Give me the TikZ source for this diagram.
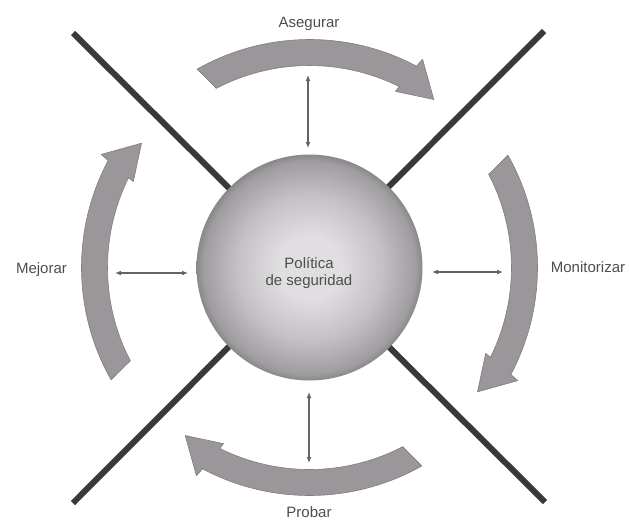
\documentclass[tikz,border=0pt]{standalone}
\usepackage{fontspec}
\setmainfont{Liberation Sans}
\usetikzlibrary{arrows.meta}
\definecolor{arcgray}{RGB}{154,150,154}
\definecolor{arcedge}{RGB}{128,124,128}
\definecolor{linedark}{RGB}{58,56,58}
\definecolor{txtgray}{RGB}{78,78,78}
\definecolor{linkgray}{RGB}{100,100,100}
\definecolor{sphA}{RGB}{224,222,224}
\definecolor{sphB}{RGB}{196,193,196}
\definecolor{sphC}{RGB}{160,157,160}
\definecolor{sphD}{RGB}{138,135,138}
\pgfdeclareradialshading{sphereshade}{\pgfpoint{0bp}{0bp}}{color(0bp)=(sphA); color(7bp)=(sphA); color(16bp)=(sphB); color(23.5bp)=(sphC); color(25bp)=(sphD); color(50bp)=(sphD)}
\begin{document}
\begin{tikzpicture}[x=1pt,y=1pt,
  lbl/.style={font=\fontsize{15}{17.5}\selectfont, text=txtgray, inner sep=0pt},
  diag/.style={line width=6pt, draw=linedark},
  link/.style={line width=1.2pt, draw=linkgray, {Latex[length=6pt,width=5pt]}-{Latex[length=6pt,width=5pt]}},
  cyc/.style={fill=arcgray, draw=arcedge, line width=0.6pt, line join=round}]
\useasboundingbox (0,0) rectangle (629,-520);
\coordinate (C) at (309.5,-267.5);
\coordinate (tl) at (73,-33);
\coordinate (br) at (545,-502);
\coordinate (tr) at (544,-31);
\coordinate (bl) at (73,-503);
\draw[diag] (tl) -- (br);
\draw[diag] (tr) -- (bl);
\node[circle, minimum size=226pt, inner sep=0pt, shade, shading=sphereshade] (sphere) at (C) {};
\node[lbl, align=center] (pol) at (309,-273) {Política\\de seguridad};
\begin{scope}[shift={(C)}]
\foreach \o in {0,-90,-180,-270}{
  \filldraw[cyc] ({119.5+\o}:228) arc[start angle={119.5+\o}, end angle={62+\o}, radius=228]
    -- ({61.5+\o}:237) -- ({53.5+\o}:209) -- ({64+\o}:196) -- ({63.6+\o}:202)
    arc[start angle={63.6+\o}, end angle={117.5+\o}, radius=202] -- cycle;
}
\end{scope}
\coordinate (ua) at (308,-75);
\coordinate (ub) at (308,-148);
\coordinate (da) at (309,-392);
\coordinate (db) at (309,-463);
\coordinate (la) at (115,-273);
\coordinate (lb) at (188,-273);
\coordinate (ra) at (432,-272);
\coordinate (rb) at (503,-272);
\draw[link] (ua) -- (ub);
\draw[link] (da) -- (db);
\draw[link] (la) -- (lb);
\draw[link] (ra) -- (rb);
\node[lbl, anchor=base] (ase) at (309,-27) {Asegurar};
\node[lbl, anchor=base] (mon) at (588,-272) {Monitorizar};
\node[lbl, anchor=base] (mej) at (41.5,-273) {Mejorar};
\node[lbl, anchor=base] (pro) at (309,-517) {Probar};
\end{tikzpicture}
\end{document}
